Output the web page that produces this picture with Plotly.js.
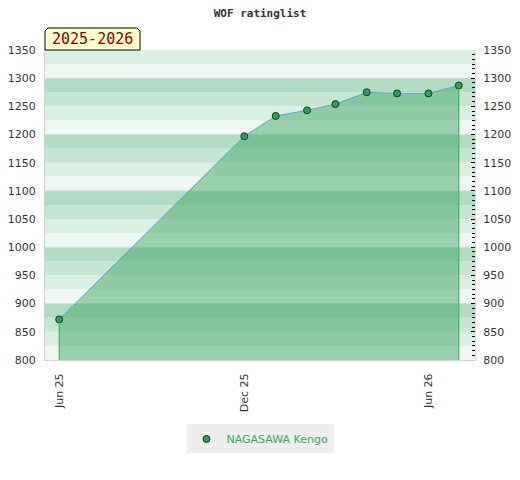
<!DOCTYPE html>
<html>
<head>
<meta charset="utf-8">
<script src="https://cdn.plot.ly/plotly-3.0.1.min.js"></script>
<style>
  html, body { margin: 0; padding: 0; background: #fff; }
  #chart { width: 520px; height: 480px; }
</style>
</head>
<body>
<div id="chart"></div>
<script>
// ---- data ----
var chartTitle = "WOF ratinglist";
var seasonLabel = "2025-2026";
var playerName = "NAGASAWA Kengo";
var dates = ["2025-06-01", "2025-12-01", "2026-01-01", "2026-02-01", "2026-03-01",
             "2026-04-01", "2026-05-01", "2026-06-01", "2026-07-01"];
var ratings = [872, 1197, 1233, 1243, 1254, 1275, 1273, 1273, 1287];
var xTickVals = ["2025-06-01", "2025-12-01", "2026-06-01"];
var xTickText = ["Jun 25", "Dec 25", "Jun 26"];
var yMin = 800, yMax = 1350;

// ---- styling ----
var bandColors = ["#eef7f1", "#dbefe3", "#c6e6d2", "#b1dcc2"];
var shapes = [];
for (var v = yMin, i = 0; v < yMax; v += 25, i++) {
  shapes.push({type: "rect", xref: "paper", yref: "y", x0: 0, x1: 1, y0: v, y1: v + 25,
               fillcolor: bandColors[i % 4], line: {width: 0}, layer: "below"});
}
for (var g = yMin + 100; g < yMax; g += 100) {
  shapes.push({type: "line", xref: "paper", yref: "y", x0: 0, x1: 1, y0: g, y1: g,
               line: {color: "#d9d9d9", width: 1}, layer: "below"});
}
// vertical edges of the area at first and last points
var last = dates.length - 1;
[0, last].forEach(function (k) {
  shapes.push({type: "line", xref: "x", yref: "y", x0: dates[k], x1: dates[k], y0: yMin, y1: ratings[k],
               line: {color: "#2ea84f", width: 1}, layer: "above"});
});
// season label box with clipped top corners
var bw = 95 / 430, bh = 22 / 310, c = 3 / 430, ch = 3 / 310;
shapes.push({type: "path", xref: "paper", yref: "paper",
  path: "M 0 1 L 0 " + (1 + bh - ch) + " L " + c + " " + (1 + bh) + " L " + (bw - c) + " " + (1 + bh) +
        " L " + bw + " " + (1 + bh - ch) + " L " + bw + " 1 Z",
  fillcolor: "#ffffcc", line: {color: "#000", width: 1}, layer: "above"});

var traces = [
  {x: dates, y: ratings, type: "scatter", mode: "lines", fill: "tozeroy",
   fillcolor: "rgba(50,161,91,0.45)", line: {color: "#5aa5d8", width: 1},
   showlegend: false, hoverinfo: "skip"},
  {x: dates, y: ratings, type: "scatter", mode: "markers", name: playerName,
   marker: {color: "#2e9e5a", size: 7, line: {color: "#123d22", width: 1}}},
  {x: dates, y: ratings, type: "scatter", mode: "none", yaxis: "y2",
   showlegend: false, hoverinfo: "skip"}
];

var tickFont = {family: "DejaVu Sans", size: 11, color: "#333"};
var layout = {
  width: 520, height: 480,
  margin: {l: 45, r: 45, t: 50, b: 120},
  paper_bgcolor: "#fff", plot_bgcolor: "rgba(0,0,0,0)",
  title: {text: "<b>" + chartTitle + "</b>", x: 0.5, xanchor: "center", y: 1 - 13 / 480, yref: "container",
          yanchor: "middle", font: {family: "DejaVu Sans Mono", size: 11, color: "#333"}},
  xaxis: {type: "date", range: ["2025-05-18", "2026-07-17"], tickvals: xTickVals, ticktext: xTickText,
          tickangle: -90, tickfont: tickFont, showgrid: false, zeroline: false,
          showline: true, linecolor: "#d0d0d0", linewidth: 1,
          ticks: "outside", ticklen: 8, tickcolor: "rgba(0,0,0,0)"},
  yaxis: {range: [yMin, yMax], dtick: 50, tick0: 800, tickfont: tickFont, showgrid: false,
          zeroline: false, showline: true, linecolor: "#d0d0d0", linewidth: 1,
          ticks: "outside", ticklen: 6, tickcolor: "rgba(0,0,0,0)"},
  yaxis2: {range: [yMin, yMax], dtick: 50, tick0: 800, overlaying: "y", side: "right",
           tickfont: tickFont, showgrid: false, zeroline: false, showline: true,
           linecolor: "#dddddd", linewidth: 1, ticks: "inside", ticklen: 4, tickcolor: "#000",
           ticklabelstandoff: 5,
           minor: {dtick: 50 / 6, tick0: 800, ticks: "inside", ticklen: 3, tickcolor: "#000", showgrid: false}},
  showlegend: true,
  legend: {orientation: "h", x: 0.5, xanchor: "center", y: -0.208, yanchor: "top",
           itemwidth: 30, bgcolor: "#eeeeee", font: {family: "DejaVu Sans", size: 11, color: "#3aa862"}},
  annotations: [{xref: "paper", yref: "paper", x: bw / 2, y: 1 + bh / 2, xanchor: "center", yanchor: "middle",
                 text: seasonLabel, showarrow: false,
                 font: {family: "DejaVu Sans Mono", size: 15, color: "#8b0000"}}],
  shapes: shapes
};

Plotly.newPlot("chart", traces, layout, {displayModeBar: false, staticPlot: true});
</script>
</body>
</html>
